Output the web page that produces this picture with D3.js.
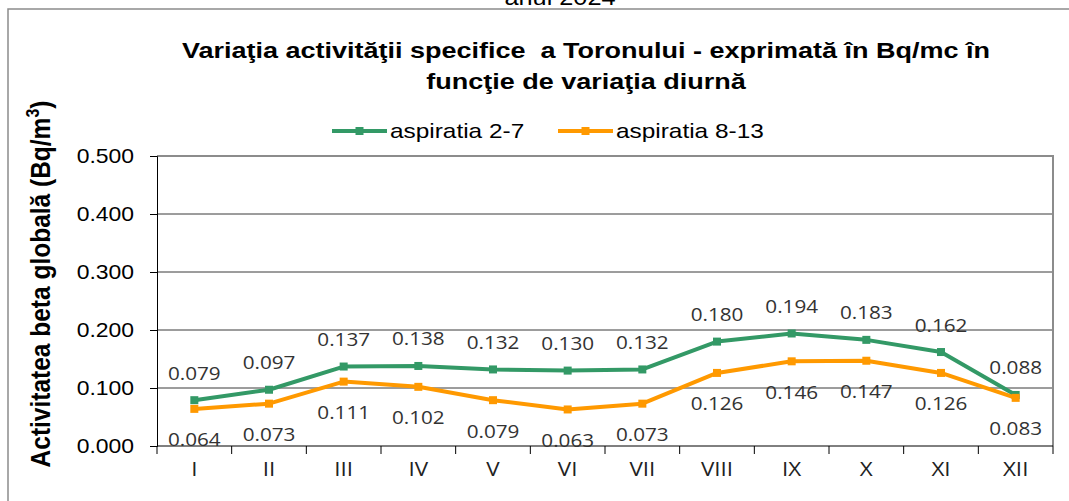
<!DOCTYPE html>
<html>
<head>
<meta charset="utf-8">
<script src="https://cdn.jsdelivr.net/npm/d3@7"></script>
<style>
  body { margin: 0; background: #fff; }
  svg { display: block; }
</style>
</head>
<body>
<div id="chart"></div>
<script>
const months = ['I', 'II', 'III', 'IV', 'V', 'VI', 'VII', 'VIII', 'IX', 'X', 'XI', 'XII'];
const asp27 = [0.079, 0.097, 0.137, 0.138, 0.132, 0.130, 0.132, 0.180, 0.194, 0.183, 0.162, 0.088];
const asp813 = [0.064, 0.073, 0.111, 0.102, 0.079, 0.063, 0.073, 0.126, 0.146, 0.147, 0.126, 0.083];
const seriesNames = ['aspiratia 2-7', 'aspiratia 8-13'];
const yTicks = [0, 0.1, 0.2, 0.3, 0.4, 0.5];

const width = 1069;
const height = 501;
const margin = { top: 156, right: 16, bottom: 55, left: 157 };
const K = 1.15; // the picture is a bit wider than tall, text looks stretched
const arial = "'Liberation Sans', Arial, sans-serif";
const calibri = "'Open Sans', sans-serif";
const colors = ['#339966', '#ff9900'];

const svg = d3.select('#chart')
  .append('svg')
  .attr('width', width)
  .attr('height', height);

// outer frame (only top and left show in the picture)
svg.append('path')
  .attr('d', `M8,${height} V9 H${width}`)
  .attr('fill', 'none')
  .attr('stroke', '#8c8c8c')
  .attr('stroke-width', 1.5);

// year line cut off at the top
svg.append('text')
  .attr('transform', `translate(560,5) scale(${K},1)`)
  .attr('text-anchor', 'middle')
  .attr('font-family', arial)
  .attr('font-size', 22)
  .text('anul 2024');

const title = ['Variaţia activităţii specifice  a Toronului - exprimată în Bq/mc în', 'funcţie de variaţia diurnă'];
title.forEach((t, i) => {
  svg.append('text')
    .attr('transform', `translate(586,${58 + i * 31}) scale(1.2,1)`)
    .attr('text-anchor', 'middle')
    .attr('font-family', arial)
    .attr('font-weight', 'bold')
    .attr('font-size', 22.5)
    .attr('xml:space', 'preserve')
    .style('white-space', 'pre')
    .text(t);
});

const x = d3.scaleBand()
  .domain(months)
  .range([margin.left, width - margin.right])
  .padding(0);

const y = d3.scaleLinear()
  .domain([0, 0.5])
  .range([height - margin.bottom, margin.top]);

const cx = m => x(m) + x.bandwidth() / 2;

// gridlines
svg.append('g')
  .selectAll('line')
  .data(yTicks.filter(d => d > 0 && d < 0.5))
  .join('line')
    .attr('x1', margin.left)
    .attr('x2', width - margin.right)
    .attr('y1', d => y(d))
    .attr('y2', d => y(d))
    .attr('stroke', '#3a3a3a')
    .attr('stroke-width', 1);

// plot area border, top and right
svg.append('path')
  .attr('d', `M${margin.left},${y(0.5)} H${width - margin.right} V${y(0)}`)
  .attr('fill', 'none')
  .attr('stroke', '#8c8c8c')
  .attr('stroke-width', 2);

function yAxis(g) {
  g.attr('transform', `translate(${margin.left},0)`)
    .call(d3.axisLeft(y).tickValues(yTicks).tickFormat(d3.format('.3f')).tickSize(7).tickPadding(14))
    .call(g => g.select('.domain').attr('stroke', '#000'))
    .call(g => g.selectAll('.tick line').attr('stroke', '#000'))
    .call(g => g.selectAll('.tick text')
      .attr('font-family', arial)
      .attr('font-size', 21)
      .attr('fill', '#000')
      .attr('transform', `scale(${K * 0.95},1)`));
}

function xAxis(g) {
  g.attr('transform', `translate(0,${y(0)})`)
    .call(d3.axisBottom(x).tickSize(0).tickPadding(16))
    .call(g => g.select('.domain').remove())
    .call(g => g.selectAll('.tick text')
      .attr('font-family', calibri)
      .attr('font-size', 19.5)
      .attr('fill', '#222')
      .attr('transform', `scale(${K},1)`));
  // ticks sit between the categories
  g.append('g')
    .selectAll('line')
    .data(months.map(m => x(m)).concat([width - margin.right]))
    .join('line')
      .attr('x1', d => d)
      .attr('x2', d => d)
      .attr('y1', 0)
      .attr('y2', 8)
      .attr('stroke', '#000');
  g.append('line')
    .attr('x1', margin.left)
    .attr('x2', width - margin.right)
    .attr('stroke', '#000');
}

svg.append('g').call(xAxis);
svg.append('g').call(yAxis);

// y title
const yTitle = svg.append('text')
  .attr('transform', `translate(50,284) rotate(-90) scale(1,1.1)`)
  .attr('text-anchor', 'middle')
  .attr('font-family', arial)
  .attr('font-weight', 'bold')
  .attr('font-size', 24.5)
  .attr('fill', '#000');
yTitle.append('tspan').text('Activitatea beta globală (Bq/m');
yTitle.append('tspan').attr('font-size', 16).attr('dy', -10).text('3');
yTitle.append('tspan').attr('dy', 10).text(')');

// series
const series = [asp27, asp813];
const line = d3.line()
  .x((d, i) => cx(months[i]))
  .y(d => y(d));

series.forEach((vals, s) => {
  svg.append('path')
    .datum(vals)
    .attr('d', line)
    .attr('fill', 'none')
    .attr('stroke', colors[s])
    .attr('stroke-width', 4)
    .attr('stroke-linejoin', 'round');

  svg.append('g')
    .selectAll('rect')
    .data(vals)
    .join('rect')
      .attr('x', (d, i) => cx(months[i]) - 4)
      .attr('y', d => y(d) - 4)
      .attr('width', 8)
      .attr('height', 8)
      .attr('fill', colors[s]);

  svg.append('g')
    .selectAll('text')
    .data(vals)
    .join('text')
      .attr('transform', (d, i) => `translate(${cx(months[i])},${s === 0 ? y(d) - 20.5 : y(d) + 37.5}) scale(${K},1)`)
      .attr('text-anchor', 'middle')
      .attr('font-family', calibri)
      .attr('font-size', 18)
      .attr('fill', '#333')
      .text(d => d3.format('.3f')(d));
});

// legend
const legendX = [332, 558];
seriesNames.forEach((name, s) => {
  const lg = svg.append('g').attr('transform', `translate(${legendX[s]},131)`);
  lg.append('line')
    .attr('x1', 0)
    .attr('x2', 55)
    .attr('stroke', colors[s])
    .attr('stroke-width', 4);
  lg.append('rect')
    .attr('x', 23.5)
    .attr('y', -4)
    .attr('width', 8)
    .attr('height', 8)
    .attr('fill', colors[s]);
  lg.append('text')
    .attr('transform', `translate(58,7) scale(1.22,1)`)
    .attr('font-family', arial)
    .attr('font-size', 20)
    .attr('fill', '#000')
    .text(name);
});
</script>
</body>
</html>
